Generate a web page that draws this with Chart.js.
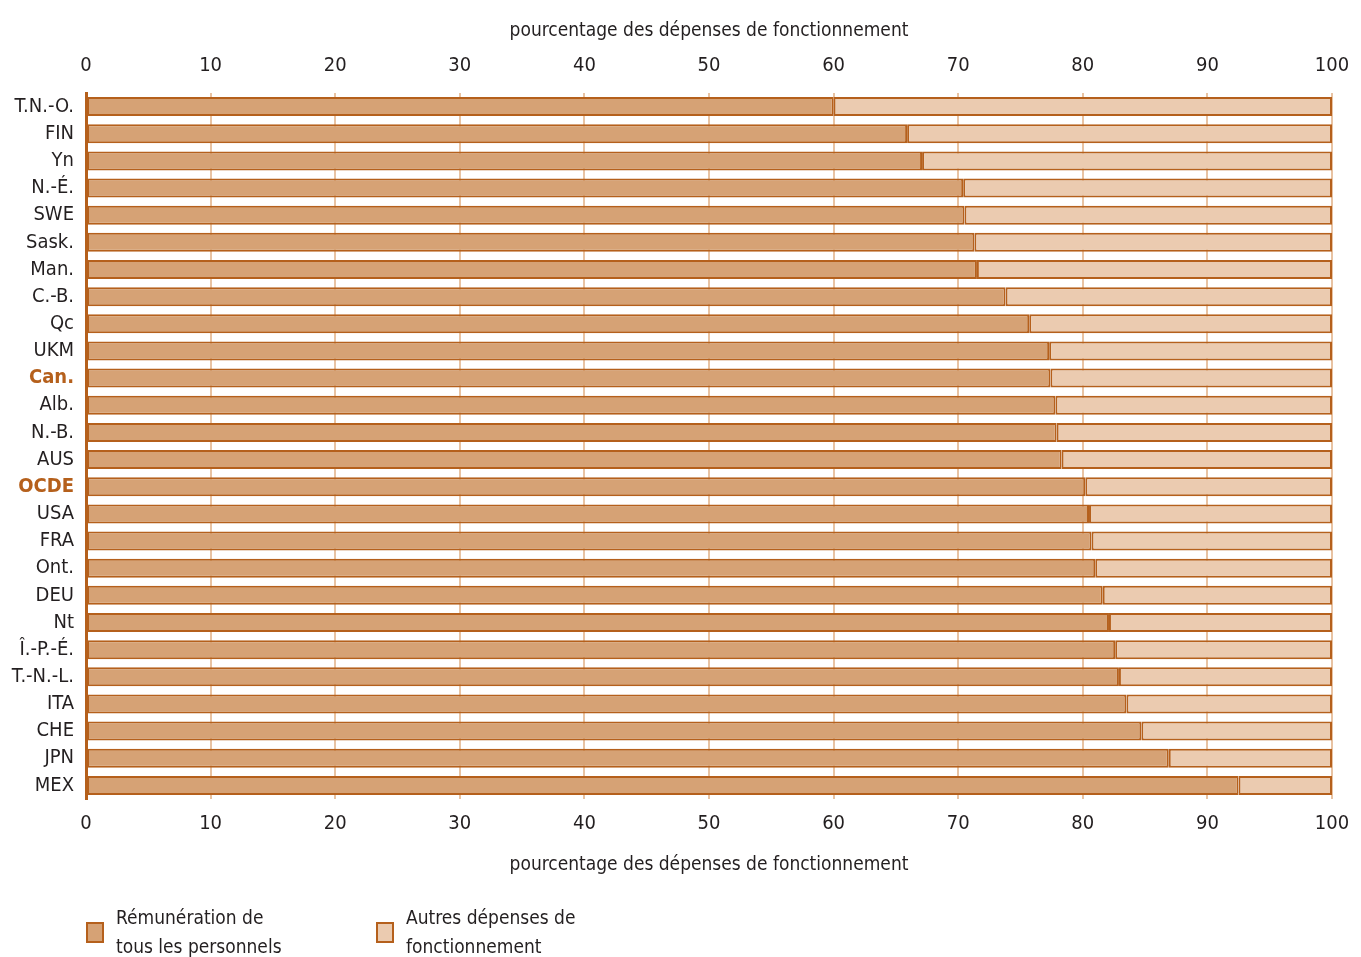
<!DOCTYPE html>
<html lang="fr">
<head>
  <meta charset="UTF-8" />
  <title>Rémunération du personnel</title>
  <script src="https://cdn.jsdelivr.net/npm/chart.js"></script>
  <style>
    body {
      margin: 0;
      background: #fff;
      font-family: 'Liberation Sans Narrow', 'DejaVu Sans Condensed', sans-serif;
      color: #231f20;
    }
    .wrap {
      position: relative;
      width: 1361px;
      height: 957px;
    }
    .legend-item {
      position: absolute;
      top: 903px;
      display: flex;
      align-items: center;
      font-size: 19px;
      line-height: 29px;
    }
    .swatch {
      width: 14px;
      height: 17px;
      border: 2px solid #b5601c;
      margin-right: 12px;
    }
  </style>
</head>
<body>
  <div class="wrap">
    <canvas id="chart" width="1361" height="957"></canvas>
    <div class="legend-item" style="left:86px">
      <div class="swatch" style="background:#d6a275"></div>
      <div>Rémunération de<br>tous les personnels</div>
    </div>
    <div class="legend-item" style="left:376px">
      <div class="swatch" style="background:#ebcbb0"></div>
      <div>Autres dépenses de<br>fonctionnement</div>
    </div>
  </div>

  <script>
    const categories = ["T.N.-O.", "FIN", "Yn", "N.-É.", "SWE", "Sask.", "Man.", "C.-B.", "Qc", "UKM",
      "Can.", "Alb.", "N.-B.", "AUS", "OCDE", "USA", "FRA", "Ont.", "DEU", "Nt",
      "Î.-P.-É.", "T.-N.-L.", "ITA", "CHE", "JPN", "MEX"];
    const remuneration = [60.0, 65.9, 67.1, 70.4, 70.5, 71.3, 71.5, 73.8, 75.7, 77.3,
      77.4, 77.8, 77.9, 78.3, 80.2, 80.5, 80.7, 81.0, 81.6, 82.1,
      82.6, 82.9, 83.5, 84.7, 86.9, 92.5];
    const autres = remuneration.map(v => +(100 - v).toFixed(1));
    const highlighted = ["Can.", "OCDE"];
    const axisTitle = "pourcentage des dépenses de fonctionnement";

    const FONT = "'Liberation Sans Narrow', 'DejaVu Sans Condensed', sans-serif";
    const BROWN = "#b5601c";

    // keep the plot edges fixed instead of leaving room for the outer tick labels
    function fixHorizontal(s, h) {
      s.height = h;
      s.paddingLeft = 0;
      s.paddingRight = 0;
    }

    const ctx = document.getElementById("chart").getContext("2d");
    new Chart(ctx, {
      type: "bar",
      data: {
        labels: categories,
        datasets: [
          {
            label: "Rémunération de tous les personnels",
            data: remuneration,
            backgroundColor: "#d6a275",
            borderColor: BROWN,
            borderWidth: 2,
            borderSkipped: false
          },
          {
            label: "Autres dépenses de fonctionnement",
            data: autres,
            backgroundColor: "#ebcbb0",
            borderColor: BROWN,
            borderWidth: 2,
            borderSkipped: false
          }
        ]
      },
      options: {
        indexAxis: "y",
        responsive: false,
        animation: false,
        layout: { padding: { left: 0, right: 29, top: 0, bottom: 79 } },
        plugins: {
          legend: { display: false },
          tooltip: { enabled: false }
        },
        datasets: {
          bar: { categoryPercentage: 1, barPercentage: 0.7 }
        },
        scales: {
          x: {
            stacked: true,
            position: "bottom",
            min: 0,
            max: 100,
            ticks: { stepSize: 10, color: "#231f20", font: { family: FONT, size: 20 }, padding: 13, maxRotation: 0 },
            grid: { color: "#e8c3a3", lineWidth: 2, drawTicks: false },
            border: { display: false },
            title: { display: true, text: axisTitle, color: "#231f20", font: { family: FONT, size: 19 }, padding: { top: 4, bottom: 2 } },
            afterFit: s => fixHorizontal(s, 79)
          },
          x2: {
            position: "top",
            min: 0,
            max: 100,
            ticks: { stepSize: 10, color: "#231f20", font: { family: FONT, size: 20 }, padding: 15, maxRotation: 0 },
            grid: { display: false, drawTicks: false },
            border: { display: false },
            title: { display: true, text: axisTitle, color: "#231f20", font: { family: FONT, size: 19 }, padding: { top: 20, bottom: 4 } },
            afterFit: s => fixHorizontal(s, 93)
          },
          y: {
            stacked: true,
            ticks: {
              padding: 12,
              font: ctx => ({ family: FONT, size: 20, weight: highlighted.includes(categories[ctx.index]) ? "bold" : "normal" }),
              color: ctx => highlighted.includes(categories[ctx.index]) ? BROWN : "#231f20"
            },
            grid: { display: false, drawTicks: false },
            border: { display: true, color: BROWN, width: 3 },
            afterFit: s => { s.width = 86; }
          }
        }
      }
    });
  </script>
</body>
</html>
